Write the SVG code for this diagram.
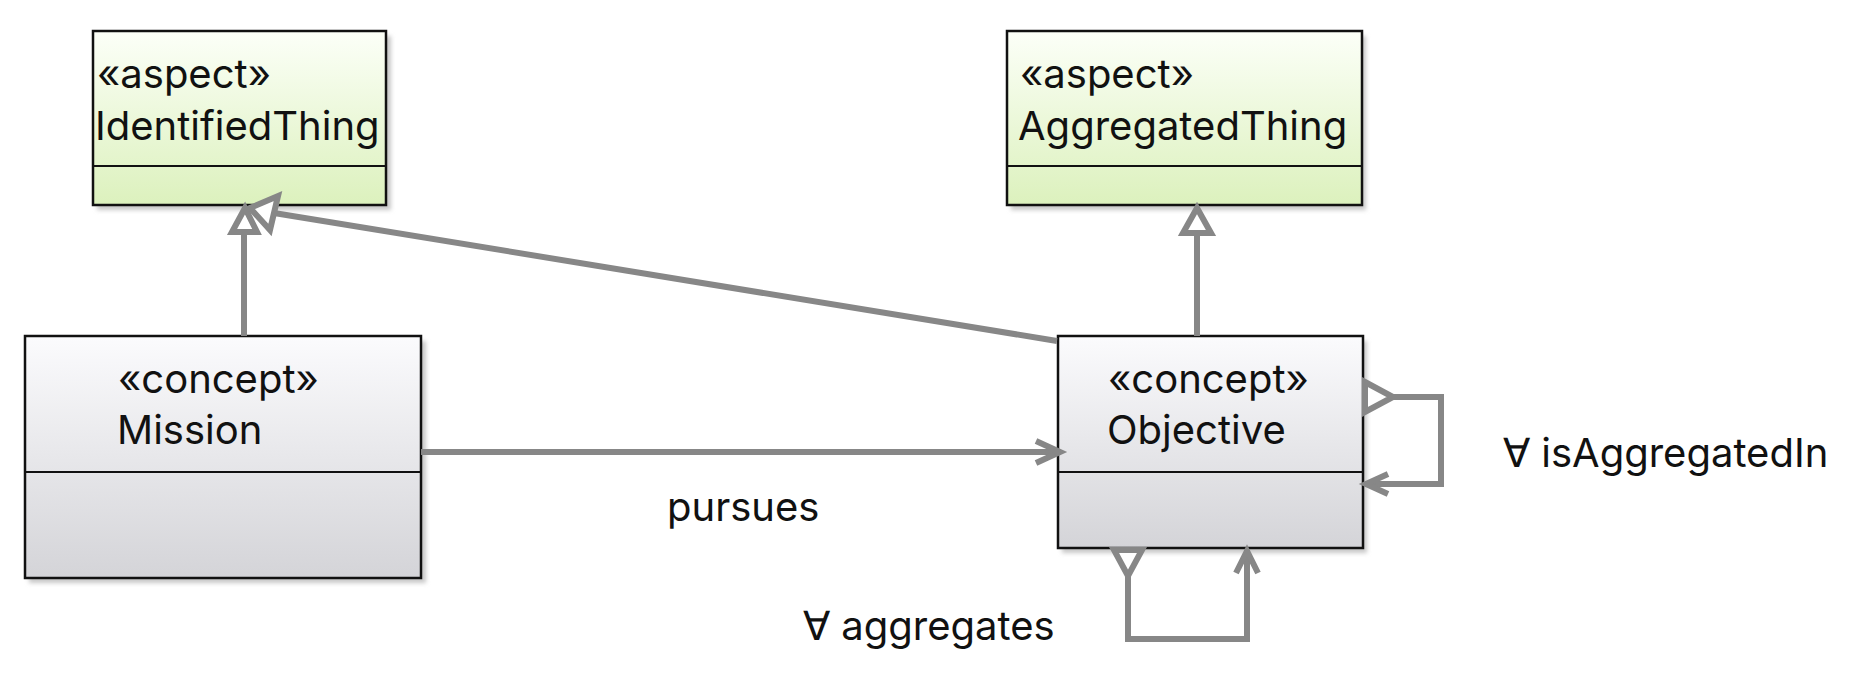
<svg xmlns="http://www.w3.org/2000/svg" width="1860" height="684" viewBox="0 0 1860 684">
<defs>
<linearGradient id="gAspect" x1="0" y1="0" x2="0" y2="1"><stop offset="0" stop-color="#fcfff8"/><stop offset="1" stop-color="#dcf1bd"/></linearGradient>
<linearGradient id="gConcept" x1="0" y1="0" x2="0" y2="1"><stop offset="0" stop-color="#fbfbfd"/><stop offset="1" stop-color="#d4d4d8"/></linearGradient>
<filter id="sh" x="-10%" y="-10%" width="130%" height="130%"><feGaussianBlur stdDeviation="2"/></filter>
</defs>
<style>
.box{stroke:#111;stroke-width:2.5}
.shadow{fill:#c8c8c8;filter:url(#sh)}
.sep{stroke:#111;stroke-width:2}
text{font-family:Inter,"Liberation Sans",sans-serif;font-size:40px;fill:#111}
.edge{fill:none;stroke:#878787;stroke-width:6;stroke-linejoin:miter}
.hollow{fill:#fff;stroke:#878787;stroke-width:6;stroke-linejoin:miter}
</style>
<rect width="1860" height="684" fill="#fff"/>
<g id="IdentifiedThing">
<rect class="shadow" x="97" y="36" width="294" height="174"/>
<rect class="box" x="93" y="31" width="293" height="174" fill="url(#gAspect)"/>
<line class="sep" x1="93" y1="166" x2="386" y2="166"/>
<text x="97" y="88">«aspect»</text>
<text x="95" y="140">IdentifiedThing</text>
</g>
<g id="AggregatedThing">
<rect class="shadow" x="1011" y="36" width="355" height="174"/>
<rect class="box" x="1007" y="31" width="355" height="174" fill="url(#gAspect)"/>
<line class="sep" x1="1007" y1="166" x2="1362" y2="166"/>
<text x="1020" y="88">«aspect»</text>
<text x="1018" y="140">AggregatedThing</text>
</g>
<g id="Mission">
<rect class="shadow" x="29" y="341" width="397" height="242"/>
<rect class="box" x="25" y="336" width="396" height="242" fill="url(#gConcept)"/>
<line class="sep" x1="25" y1="472" x2="421" y2="472"/>
<text x="118" y="393">«concept»</text>
<text x="117" y="444">Mission</text>
</g>
<g id="Objective">
<rect class="shadow" x="1062" y="341" width="305" height="212"/>
<rect class="box" x="1058" y="336" width="305" height="212" fill="url(#gConcept)"/>
<line class="sep" x1="1058" y1="472" x2="1363" y2="472"/>
<text x="1108" y="393">«concept»</text>
<text x="1107" y="444">Objective</text>
</g>
<g id="connectors">
<path class="edge" d="M244 336 V232"/>
<polygon class="hollow" points="245,208 232,232 257,232"/>
<path class="edge" d="M1057 341 L274 213"/>
<polygon class="hollow" points="250,208 278,196 270,230"/>
<path class="edge" d="M1197 336 V233"/>
<polygon class="hollow" points="1197,208 1183,233 1211,233"/>
<path class="edge" d="M421 452 H1058"/>
<path class="edge" d="M1036 441 L1060 452 L1036 463"/>
<text x="667" y="521">pursues</text>
<polygon class="hollow" points="1365,382 1393,397 1365,412"/>
<path class="edge" d="M1393 397 H1441 V484 H1365"/>
<path class="edge" d="M1388 474 L1366 484 L1388 494"/>
<text x="1503" y="467">∀ isAggregatedIn</text>
<polygon class="hollow" points="1114,550 1142,550 1128,576"/>
<path class="edge" d="M1128 576 V639 H1247 V550"/>
<path class="edge" d="M1236 573 L1247 551 L1258 573"/>
<text x="803" y="640">∀ aggregates</text>
</g>
</svg>
